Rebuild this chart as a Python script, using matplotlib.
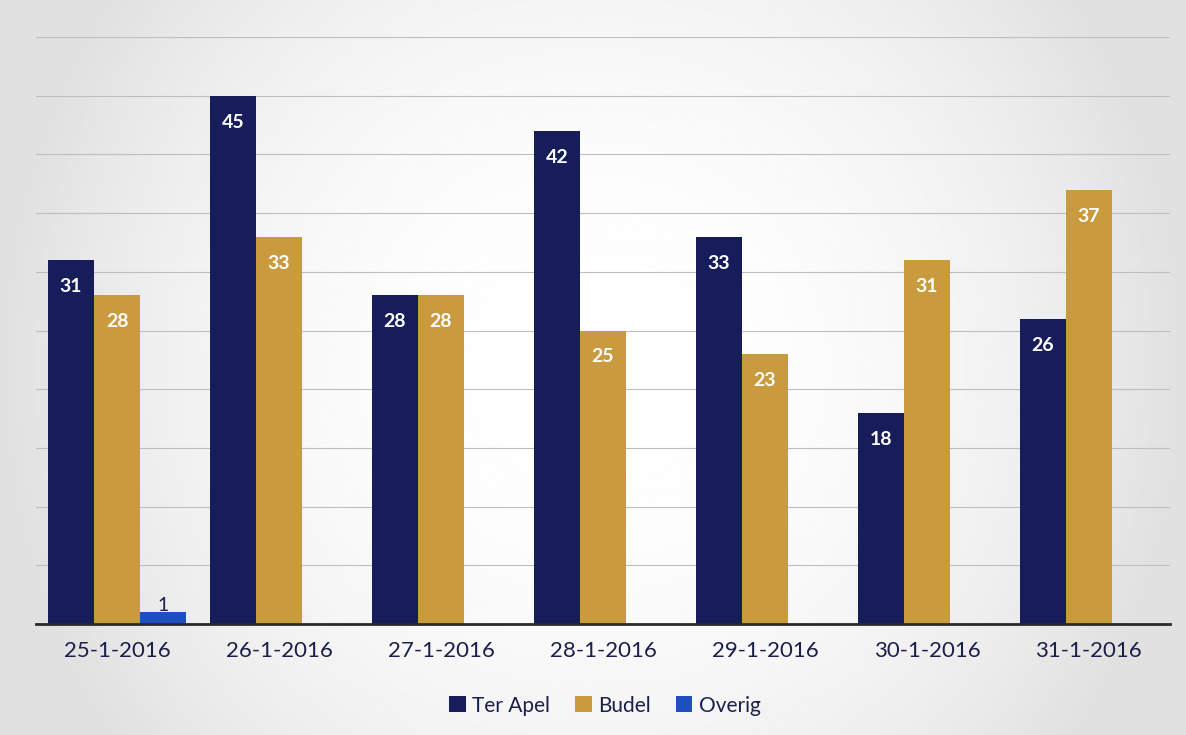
import matplotlib.pyplot as plt
import numpy as np

dates = ['25-1-2016', '26-1-2016', '27-1-2016', '28-1-2016',
         '29-1-2016', '30-1-2016', '31-1-2016']
ter_apel = [31, 45, 28, 42, 33, 18, 26]
budel = [28, 33, 28, 25, 23, 31, 37]
overig = [1, 0, 0, 0, 0, 0, 0]

c_ter = '#171d5b'
c_bud = '#c99a3e'
c_ove = '#1d4fc0'
c_txt = '#1b1f4a'

plt.rcParams['font.family'] = ['Lato', 'DejaVu Sans']

fig = plt.figure(figsize=(11.86, 7.35), dpi=100)

# scanned-page look: grey towards the edges, white in the middle
bg = fig.add_axes([0, 0, 1, 1], zorder=-10)
gx = np.linspace(-1, 1, 400)
gy = np.linspace(-1, 1, 250)
X, Y = np.meshgrid(gx, gy)
shade = 1 - 0.12 * np.clip(np.abs(X) ** 2.2 + 0.35 * np.abs(Y) ** 2, 0, 1)
bg.imshow(shade, cmap='gray', vmin=0, vmax=1, aspect='auto',
          extent=[0, 1, 0, 1])
bg.set_axis_off()

ax = fig.add_axes([0.0304, 0.151, 0.956, 0.7986])
ax.patch.set_alpha(0)

x = np.arange(len(dates))
w = 0.284

b1 = ax.bar(x - w, ter_apel, w, color=c_ter, label='Ter Apel', zorder=3)
b2 = ax.bar(x, budel, w, color=c_bud, label='Budel', zorder=3)
b3 = ax.bar(x + w, overig, w, color=c_ove, label='Overig', zorder=3)

for bars in (b1, b2):
    for r in bars:
        h = r.get_height()
        if h == 0:
            continue
        ax.annotate('%d' % h, (r.get_x() + r.get_width() / 2, h),
                    xytext=(0, -19), textcoords='offset points',
                    ha='center', va='center', color='white',
                    fontsize=14, fontweight='bold', zorder=4)
for r in b3:
    h = r.get_height()
    if h == 0:
        continue
    ax.annotate('%d' % h, (r.get_x() + r.get_width() / 2, h),
                xytext=(0, -1), textcoords='offset points',
                ha='center', va='bottom', color=c_txt,
                fontsize=14, zorder=4)

ax.set_xlim(-0.5, 6.5)
ax.set_ylim(0, 50)
ax.set_yticks(range(0, 51, 5))
ax.yaxis.grid(True, color='#bdbdc2', lw=0.8, zorder=0)
ax.tick_params(axis='y', left=False, labelleft=False)
ax.set_xticks(x)
ax.set_xticklabels(dates, fontsize=16, color=c_txt)
ax.tick_params(axis='x', length=0, pad=12)
for s in ('top', 'right', 'left'):
    ax.spines[s].set_visible(False)
ax.spines['bottom'].set_color('#2a2a2a')
ax.spines['bottom'].set_linewidth(2)
ax.spines['bottom'].set_zorder(5)

fig.legend(handles=[b1, b2, b3], loc='center', bbox_to_anchor=(0.51, 0.04),
           ncol=3, frameon=False, fontsize=15, handlelength=0.8,
           handleheight=0.8, handletextpad=0.3, columnspacing=1.2,
           labelcolor=c_txt)

plt.savefig('out.png', dpi=100)
